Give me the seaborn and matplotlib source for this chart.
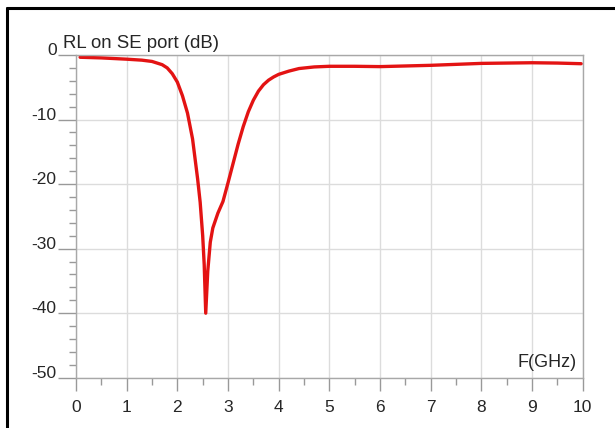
import numpy as np
import pandas as pd
import matplotlib
matplotlib.use('Agg')
import matplotlib.pyplot as plt
import seaborn as sns
from matplotlib.ticker import MultipleLocator

# values
freq_ghz = [0.08, 0.5, 1.0, 1.3, 1.5, 1.7, 1.8, 1.9, 2.0, 2.1, 2.2, 2.3, 2.4,
            2.45, 2.5, 2.53, 2.56, 2.6, 2.65, 2.7, 2.8, 2.9, 3.0, 3.1, 3.2,
            3.3, 3.4, 3.5, 3.6, 3.7, 3.8, 3.9, 4.0, 4.2, 4.4, 4.7, 5.0, 5.5,
            6.0, 6.5, 7.0, 7.5, 8.0, 8.5, 9.0, 9.5, 9.97]
rl_db = [-0.35, -0.45, -0.65, -0.8, -1.0, -1.5, -2.0, -2.9, -4.2, -6.3, -9.0,
         -13.0, -19.2, -22.8, -28.0, -32.5, -40.0, -33.5, -29.0, -26.8, -24.5,
         -22.7, -19.8, -16.8, -13.8, -11.1, -8.8, -7.0, -5.6, -4.6, -3.9, -3.4,
         -3.0, -2.5, -2.1, -1.85, -1.75, -1.75, -1.8, -1.7, -1.6, -1.45, -1.3,
         -1.25, -1.2, -1.25, -1.35]

x_ticks = list(range(0, 11))
y_ticks = [0, -10, -20, -30, -40, -50]

df = pd.DataFrame({'freq': freq_ghz, 'rl': rl_db})

sns.set_style('white')
plt.rcParams['font.family'] = ['Liberation Sans', 'DejaVu Sans']
plt.rcParams['axes.unicode_minus'] = False

fig = plt.figure(figsize=(6.15, 4.28), dpi=100)
ax = fig.add_axes([0.1236, 0.1175, 0.8239, 0.754])

sns.lineplot(data=df, x='freq', y='rl', color='#e31313', linewidth=2.4, ax=ax)

ax.set_xlim(0, 10)
ax.set_ylim(-50, 0)
ax.set_xticks(x_ticks)
ax.set_yticks(y_ticks)
ax.xaxis.set_minor_locator(MultipleLocator(0.5))
ax.yaxis.set_minor_locator(MultipleLocator(2))
ax.grid(True, which='major', color='#dcdcdc', linewidth=1)
ax.set_xlabel('')
ax.set_ylabel('')

for s in ax.spines.values():
    s.set_color('#a8a8a8')
    s.set_linewidth(1)

ax.tick_params(axis='x', which='major', length=9, width=1, color='#999999',
               labelsize=12.5, pad=7)
ax.tick_params(axis='x', which='minor', length=5, width=1, color='#999999')
ax.tick_params(axis='y', which='major', length=13, width=1, color='#999999',
               labelsize=12.5, pad=1)
ax.tick_params(axis='y', which='minor', length=5, width=1, color='#999999')
ax.tick_params(which='both', bottom=True, left=True)
for lab in ax.get_yticklabels():
    lab.set_verticalalignment('baseline')

ax.text(9.88, -48.3, 'F(GHz)', ha='right', va='baseline', fontsize=13)
fig.text(0.1024, 0.888, 'RL on SE port (dB)', ha='left', va='baseline', fontsize=13.4)

# black frame on the left and top edges
fig.add_artist(plt.Line2D([7 / 615, 7 / 615], [0, 1 - 8 / 428], color='black', linewidth=2.2))
fig.add_artist(plt.Line2D([7 / 615, 1], [1 - 8 / 428, 1 - 8 / 428], color='black', linewidth=2.2))

fig.savefig('out.png', dpi=100)
